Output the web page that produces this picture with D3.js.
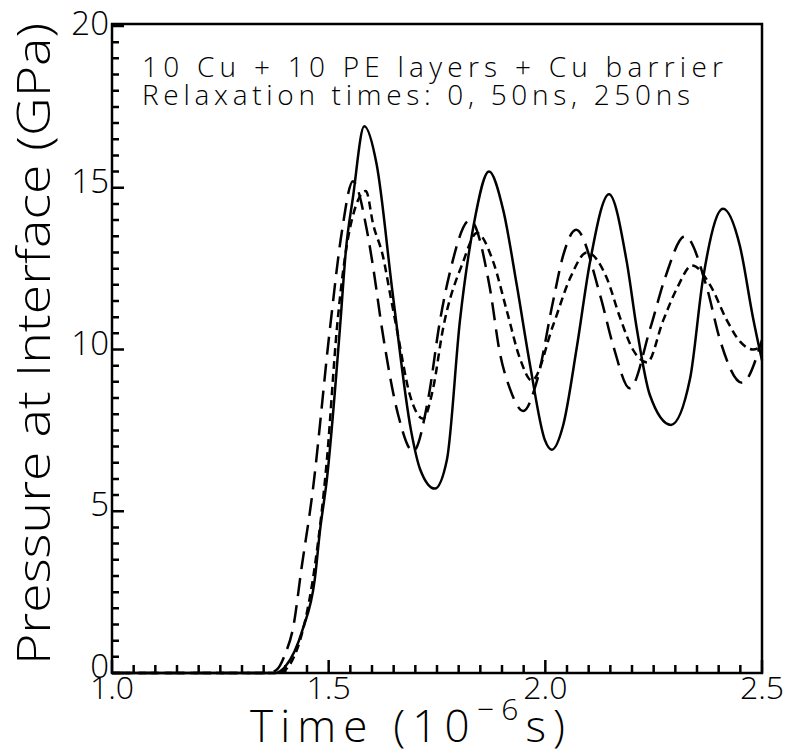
<!DOCTYPE html>
<html>
<head>
<meta charset="utf-8">
<script src="https://cdn.jsdelivr.net/npm/d3@7"></script>
<style>
  body { margin: 0; background: #fff; }
  svg text { font-family: "Open Sans", "DejaVu Sans", sans-serif; font-weight: 300; fill: #000; }
</style>
</head>
<body>
<div id="chart"></div>
<script>
// time in 1e-6 s, pressure in GPa
const solidT = [1.000, 1.375, 1.400, 1.440, 1.468, 1.480, 1.496, 1.526, 1.540, 1.556, 1.582, 1.611, 1.648, 1.690, 1.711, 1.745, 1.773, 1.803, 1.834, 1.870, 1.903, 1.934, 1.965, 1.999, 2.015, 2.041, 2.073, 2.103, 2.147, 2.188, 2.211, 2.241, 2.290, 2.334, 2.364, 2.410, 2.449, 2.479, 2.500];
const solidP = [0, 0, 0.2, 1.35, 2.9, 4.4, 6.0, 10.65, 13.1, 14.7, 16.9, 15.7, 11.7, 7.5, 6.3, 5.7, 6.6, 10.9, 13.8, 15.5, 14.3, 12.0, 9.5, 7.2, 6.9, 7.65, 10.1, 12.7, 14.8, 12.7, 10.65, 8.6, 7.67, 9.1, 12.2, 14.35, 13.2, 11.0, 9.66];

const longT = [1.000, 1.360, 1.380, 1.400, 1.418, 1.438, 1.462, 1.503, 1.530, 1.556, 1.588, 1.602, 1.623, 1.660, 1.695, 1.730, 1.757, 1.780, 1.826, 1.872, 1.895, 1.918, 1.949, 1.980, 2.018, 2.041, 2.071, 2.126, 2.157, 2.195, 2.242, 2.276, 2.322, 2.373, 2.403, 2.454, 2.500];
const longP = [0, 0, 0.1, 0.6, 1.4, 3.3, 5.5, 10.65, 13.6, 15.2, 13.7, 12.6, 10.65, 8.0, 6.85, 8.5, 10.9, 12.4, 14.0, 11.9, 9.9, 8.8, 8.1, 9.0, 11.5, 12.9, 13.7, 11.7, 10.1, 8.8, 10.65, 12.2, 13.5, 11.9, 10.3, 8.97, 10.3];

const shortT = [1.000, 1.380, 1.400, 1.420, 1.440, 1.468, 1.496, 1.519, 1.550, 1.586, 1.603, 1.625, 1.642, 1.657, 1.688, 1.718, 1.741, 1.764, 1.810, 1.842, 1.880, 1.911, 1.942, 1.969, 2.018, 2.057, 2.096, 2.142, 2.172, 2.202, 2.235, 2.272, 2.304, 2.339, 2.380, 2.419, 2.449, 2.479, 2.500];
const shortP = [0, 0, 0.1, 0.5, 1.3, 3.3, 6.6, 10.65, 13.8, 14.9, 13.85, 12.9, 11.7, 10.65, 8.57, 7.86, 8.8, 10.65, 12.7, 13.6, 12.7, 11.2, 9.7, 9.04, 10.75, 12.2, 13.0, 12.2, 11.0, 10.0, 9.6, 10.9, 11.9, 12.6, 12.0, 10.9, 10.25, 10.0, 10.1];

const xTicks = [1.0, 1.5, 2.0, 2.5];
const xTickLabels = ["1.0", "1.5", "2.0", "2.5"];
const yTicks = [0, 5, 10, 15, 20];
const yTickLabels = ["0", "5", "10", "15", "20"];
const notes = ["10 Cu + 10 PE layers + Cu barrier", "Relaxation times: 0, 50ns, 250ns"];

const width = 788, height = 756;
const margin = { top: 24, right: 26, bottom: 83, left: 112 };

const svg = d3.select("#chart").append("svg")
    .attr("width", width)
    .attr("height", height);

const x = d3.scaleLinear().domain([1.0, 2.5]).range([margin.left, width - margin.right]);
const y = d3.scaleLinear().domain([0, 20]).range([height - margin.bottom, margin.top + 2]);

// frame
svg.append("rect")
    .attr("x", x(1.0)).attr("y", margin.top)
    .attr("width", x(2.5) - x(1.0))
    .attr("height", y(0) - margin.top)
    .attr("fill", "none").attr("stroke", "#000").attr("stroke-width", 2.5);

// ticks (inward), minor every 0.05 / 0.5, longer at the labelled ones
const xMinor = d3.range(0, 31).map(i => 1.0 + i * 0.05);
const yMinor = d3.range(0, 41).map(i => i * 0.5);

const xTickPath = xMinor.map((d, i) =>
    `M${x(d)},${y(0)}V${y(0) - (i % 10 === 0 ? 13 : 8)}`).join("");
const yTickPath = yMinor.map((d, i) =>
    `M${x(1.0)},${y(d)}H${x(1.0) + (i % 10 === 0 ? 12 : 7)}`).join("");

svg.append("path").attr("class", "ticks")
    .attr("d", xTickPath + yTickPath)
    .attr("fill", "none")
    .attr("stroke", "#000")
    .attr("stroke-width", 2.5);

// tick labels
svg.append("g").selectAll("text").data(xTicks).enter().append("text")
    .attr("x", d => x(d))
    .attr("y", y(0) + 26)
    .attr("text-anchor", "middle")
    .attr("font-size", 32)
    .text((d, i) => xTickLabels[i]);

svg.append("g").selectAll("text").data(yTicks).enter().append("text")
    .attr("x", x(1.0) - 3)
    .attr("y", d => Math.max(y(d) + 5, 35))
    .attr("text-anchor", "end")
    .attr("font-size", 33)
    .text((d, i) => yTickLabels[i]);

// axis titles
const xt = svg.append("text")
    .attr("x", 250).attr("y", 742)
    .attr("font-size", 44)
    .attr("textLength", 315)
    .attr("lengthAdjust", "spacing");
xt.append("tspan").text("Time  (10");
xt.append("tspan").attr("dy", -22).attr("font-size", 30).text("\u22126");
xt.append("tspan").attr("dy", 22).text("s)");

svg.append("text")
    .attr("transform", `translate(50,${y(0) - 8}) rotate(-90)`)
    .attr("font-size", 46)
    .attr("textLength", 642)
    .attr("lengthAdjust", "spacingAndGlyphs")
    .text("Pressure at Interface (GPa)");

// annotation
svg.append("text").attr("x", 142).attr("y", 77)
    .attr("font-size", 28).attr("textLength", 581).attr("lengthAdjust", "spacing")
    .text(notes[0]);
svg.append("text").attr("x", 142).attr("y", 105)
    .attr("font-size", 28).attr("textLength", 548).attr("lengthAdjust", "spacing")
    .text(notes[1]);

// curves
const line = d3.line()
    .x(d => x(d[0]))
    .y(d => y(d[1]))
    .curve(d3.curveMonotoneX);

const series = [
    { t: longT, p: longP, dash: "18,9" },
    { t: shortT, p: shortP, dash: "8,5" },
    { t: solidT, p: solidP, dash: null }
];

series.forEach(s => {
    const pts = s.t.map((t, i) => [t, s.p[i]]);
    svg.append("path")
        .datum(pts)
        .attr("d", line)
        .attr("fill", "none")
        .attr("stroke", "#000")
        .attr("stroke-width", 2.5)
        .attr("stroke-dasharray", s.dash);
});
</script>
</body>
</html>
